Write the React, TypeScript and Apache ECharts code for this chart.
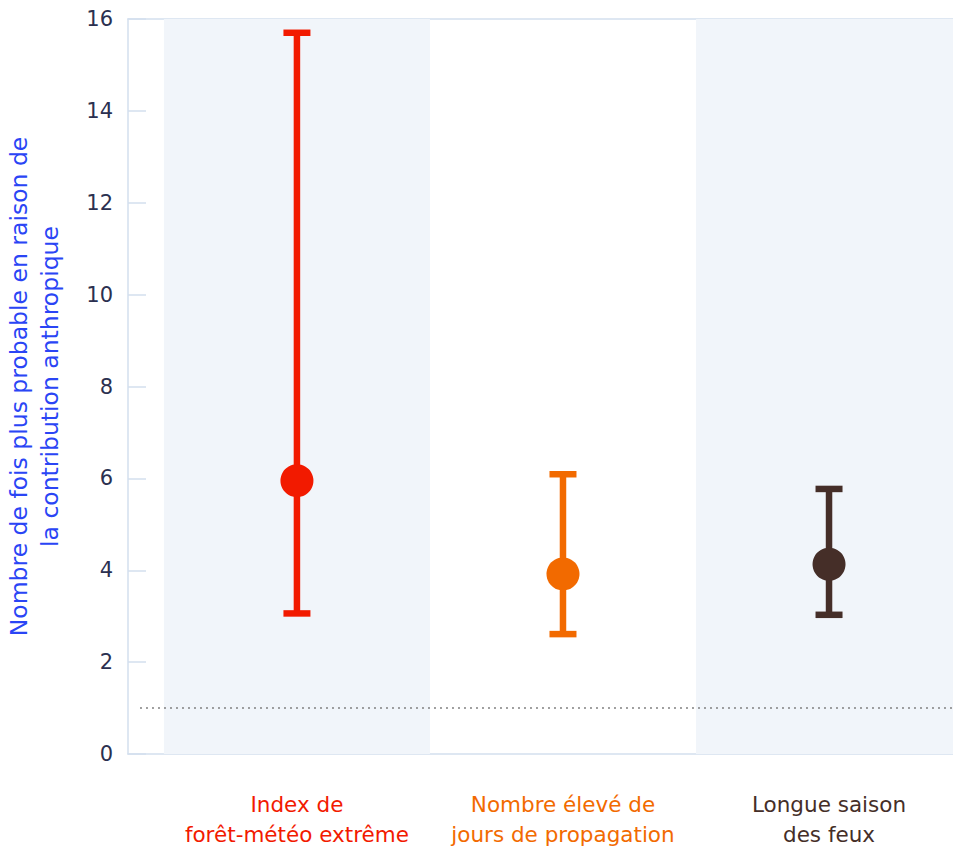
import React, { useEffect, useRef } from "react";
import * as echarts from "echarts";

const categories = [
  ["Index de", "forêt-météo extrême"],
  ["Nombre élevé de", "jours de propagation"],
  ["Longue saison", "des feux"],
];
const centralValues = [5.95, 3.92, 4.13];
const lowerValues = [3.06, 2.61, 3.03];
const upperValues = [15.7, 6.09, 5.77];
const categoryColors = ["#f21a00", "#f26a00", "#452e28"];
const yTicks = { min: 0, max: 16, interval: 2 };
const referenceLevel = 1;
const bandIndices = [0, 2];
const yAxisTitle = "Nombre de fois plus probable en raison de\nla contribution anthropique";

const FONT = "'DejaVu Sans', sans-serif";
const AXIS_COLOR = "#d3dfee";
const BAND_COLOR = "#f1f5fa";
const X_MIN = -0.635;
const X_MAX = 2.466;

export default function App() {
  const ref = useRef<HTMLDivElement>(null);

  useEffect(() => {
    if (!ref.current) return;
    const chart = echarts.init(ref.current, null, { renderer: "svg" });

    const rich: Record<string, any> = {};
    categoryColors.forEach((c, i) => {
      rich["c" + i] = {
        color: c,
        fontSize: 21.5,
        fontFamily: FONT,
        lineHeight: 30,
        align: "center",
      };
    });

    const errorData = categories.map((_, i) => [i, lowerValues[i], upperValues[i]]);
    const pointData = categories.map((_, i) => ({
      value: [i, centralValues[i]],
      itemStyle: { color: categoryColors[i], opacity: 1 },
    }));

    const option: any = {
      animation: false,
      textStyle: { fontFamily: FONT },
      grid: {
        left: 128,
        right: 0,
        top: 19,
        bottom: 96,
        containLabel: false,
        outerBoundsMode: "none",
      },
      xAxis: [
        {
          type: "value",
          min: X_MIN,
          max: X_MAX,
          position: "bottom",
          axisLine: { show: true, onZero: false, lineStyle: { color: AXIS_COLOR, width: 1.5 } },
          axisTick: { show: false },
          splitLine: { show: false },
          axisLabel: {
            customValues: [0, 1, 2],
            margin: 35,
            hideOverlap: false,
            formatter: (v: number) => {
              const i = Math.round(v);
              if (i < 0 || i >= categories.length) return "";
              return categories[i].map((l) => `{c${i}|${l}}`).join("\n");
            },
            rich,
          },
        },
        {
          type: "value",
          min: X_MIN,
          max: X_MAX,
          position: "top",
          axisLine: { show: true, onZero: false, lineStyle: { color: AXIS_COLOR, width: 1.5 } },
          axisTick: { show: false },
          axisLabel: { show: false },
          splitLine: { show: false },
        },
      ],
      yAxis: {
        type: "value",
        min: yTicks.min,
        max: yTicks.max,
        interval: yTicks.interval,
        position: "left",
        name: yAxisTitle,
        nameLocation: "middle",
        nameGap: 63,
        nameTextStyle: {
          color: "#2a45f5",
          fontSize: 23.5,
          lineHeight: 31,
          fontFamily: FONT,
          align: "center",
        },
        axisLine: { show: true, onZero: false, lineStyle: { color: AXIS_COLOR, width: 1.5 } },
        axisTick: { show: true, inside: true, length: 18, lineStyle: { color: AXIS_COLOR, width: 1.5 } },
        splitLine: { show: false },
        axisLabel: { color: "#2b3050", fontSize: 21, margin: 15, fontFamily: FONT },
      },
      series: [
        {
          type: "custom",
          z: 1,
          clip: true,
          silent: true,
          data: bandIndices.map((b) => [b]),
          renderItem: (params: any, api: any) => {
            const x = api.value(0);
            const p1 = api.coord([x - 0.5, yTicks.max]);
            const p2 = api.coord([x + 0.5, yTicks.min]);
            return {
              type: "rect",
              shape: { x: p1[0], y: p1[1], width: p2[0] - p1[0], height: p2[1] - p1[1] },
              style: { fill: BAND_COLOR },
            };
          },
        },
        {
          type: "custom",
          z: 3,
          silent: true,
          data: errorData,
          renderItem: (params: any, api: any) => {
            const x = api.value(0);
            const lo = api.value(1);
            const hi = api.value(2);
            const top = api.coord([x, hi]);
            const bot = api.coord([x, lo]);
            const color = categoryColors[params.dataIndex];
            const half = 13.5;
            const lw = 6.5;
            const st = { stroke: color, lineWidth: lw, lineCap: "butt" };
            return {
              type: "group",
              children: [
                { type: "line", shape: { x1: top[0], y1: top[1], x2: bot[0], y2: bot[1] }, style: st },
                { type: "line", shape: { x1: top[0] - half, y1: top[1], x2: top[0] + half, y2: top[1] }, style: st },
                { type: "line", shape: { x1: bot[0] - half, y1: bot[1], x2: bot[0] + half, y2: bot[1] }, style: st },
              ],
            };
          },
        },
        {
          type: "scatter",
          z: 4,
          symbol: "circle",
          symbolSize: 33,
          silent: true,
          itemStyle: { opacity: 1 },
          data: pointData,
          markLine: {
            silent: true,
            symbol: ["none", "none"],
            label: { show: false },
            lineStyle: { type: [2, 4], color: "#808080", width: 1.5 },
            data: [[{ coord: [-0.59, referenceLevel] }, { coord: [X_MAX, referenceLevel] }]],
          },
        },
      ],
    };

    chart.setOption(option);
    return () => chart.dispose();
  }, []);

  return <div ref={ref} style={{ width: 953, height: 850, position: "absolute", left: 0, top: 0 }} />;
}
